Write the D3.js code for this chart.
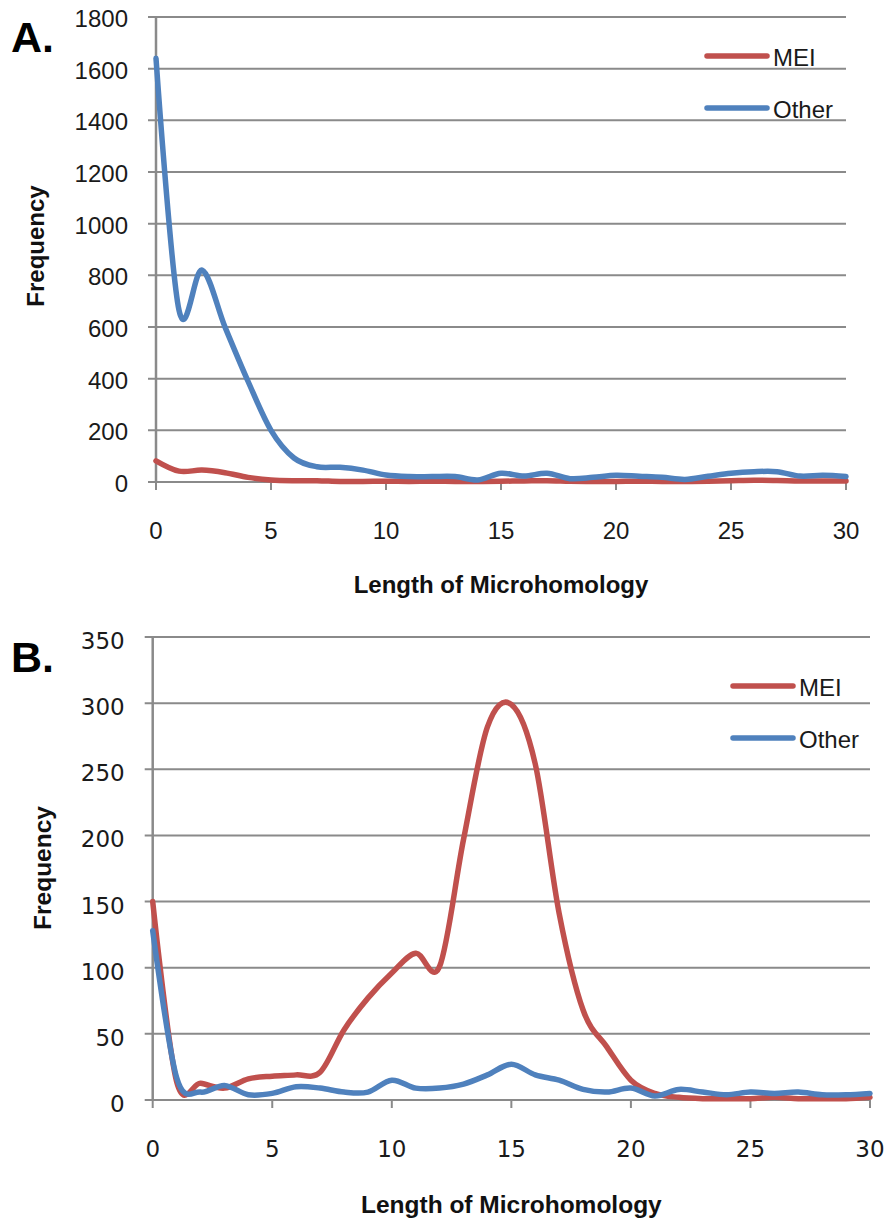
<!DOCTYPE html>
<html>
<head>
<meta charset="utf-8">
<script src="https://cdn.jsdelivr.net/npm/d3@7"></script>
<style>
  html, body { margin: 0; padding: 0; background: #ffffff; }
  svg { display: block; }
</style>
</head>
<body>
<svg id="chart" width="890" height="1222"></svg>
<script>
// ---- Data ----
const lengths = [0,1,2,3,4,5,6,7,8,9,10,11,12,13,14,15,16,17,18,19,20,21,22,23,24,25,26,27,28,29,30];

// Panel A
const meiA   = [82,42,46,36,18,8,5,5,2,2,3,2,3,2,2,3,4,5,3,2,2,3,2,2,3,5,7,6,4,4,4];
const otherA = [1640,665,820,600,390,200,93,59,57,46,27,21,21,21,8,34,23,34,13,18,26,22,18,10,22,34,40,40,23,26,21];

// Panel B
const meiB   = [150,14,12.6,9,16,18,19,21,53,77,96,111,101,197,282,299,254,141,68,40,15,5,2,1,1,1,2,1,1,1,2];
const otherB = [128,17,6,11,4,5,10,9,6,6,15,9,9,12,19,27,19,15,8,6,9,3,8,6,4,6,5,6,4,4,5];

const seriesNames = ["MEI", "Other"];
const seriesColors = ["#C0504D", "#4F81BD"];

const yTicksA = [0,200,400,600,800,1000,1200,1400,1600,1800];
const yTicksB = [0,50,100,150,200,250,300,350];
const xTicks  = [0,5,10,15,20,25,30];

const panelLabels = ["A.", "B."];
const xTitle = "Length of Microhomology";
const yTitle = "Frequency";

// ---- Drawing ----
const svg = d3.select("#chart");
const gridColor = "#8a8a8a";

function drawPanel(cfg) {
  const g = svg.append("g");
  const x = d3.scaleLinear().domain([0, 30]).range([cfg.left, cfg.right]);
  const y = d3.scaleLinear().domain([0, cfg.yMax]).range([cfg.bottom, cfg.top]);

  // horizontal gridlines (with left tick stubs)
  g.selectAll("line.grid").data(cfg.yTicks).enter().append("line")
    .attr("x1", cfg.left - 8).attr("x2", cfg.right)
    .attr("y1", d => y(d)).attr("y2", d => y(d))
    .attr("stroke", gridColor).attr("stroke-width", 2);

  // vertical axis
  g.append("line")
    .attr("x1", cfg.left).attr("x2", cfg.left)
    .attr("y1", y(cfg.yMax)).attr("y2", cfg.bottom + 1)
    .attr("stroke", gridColor).attr("stroke-width", 2.5);

  // x ticks
  g.selectAll("line.xt").data(xTicks).enter().append("line")
    .attr("x1", d => x(d)).attr("x2", d => x(d))
    .attr("y1", cfg.bottom).attr("y2", cfg.bottom + 8)
    .attr("stroke", gridColor).attr("stroke-width", 2);

  // y tick labels
  g.selectAll("text.yl").data(cfg.yTicks).enter().append("text")
    .attr("x", cfg.left - 28)
    .attr("y", d => y(d) + cfg.yLabelDy)
    .attr("text-anchor", "end")
    .attr("font-family", cfg.tickFont)
    .attr("font-size", cfg.tickSize)
    .attr("fill", "#1a1a1a")
    .text(d => d);

  // x tick labels
  g.selectAll("text.xl").data(xTicks).enter().append("text")
    .attr("x", d => x(d))
    .attr("y", cfg.xLabelY)
    .attr("text-anchor", "middle")
    .attr("font-family", cfg.tickFont)
    .attr("font-size", cfg.tickSize)
    .attr("fill", "#1a1a1a")
    .text(d => d);

  // lines
  const line = d3.line()
    .x((d, i) => x(lengths[i]))
    .y(d => y(d))
    .curve(d3.curveCardinal.tension(0));

  cfg.series.forEach((s, i) => {
    g.append("path")
      .attr("d", line(s))
      .attr("fill", "none")
      .attr("stroke", seriesColors[i])
      .attr("stroke-width", 5.5)
      .attr("stroke-linejoin", "round")
      .attr("stroke-linecap", "round");
  });

  // legend
  seriesNames.forEach((name, i) => {
    const ly = cfg.legendY[i];
    g.append("line")
      .attr("x1", cfg.legendX).attr("x2", cfg.legendX + 60)
      .attr("y1", ly).attr("y2", ly)
      .attr("stroke", seriesColors[i]).attr("stroke-width", 5.5)
      .attr("stroke-linecap", "round");
    g.append("text")
      .attr("x", cfg.legendX + 66)
      .attr("y", ly + 10)
      .attr("font-family", "Liberation Sans, Arial, sans-serif")
      .attr("font-size", 24)
      .attr("fill", "#1a1a1a")
      .text(name);
  });

  // axis titles
  g.append("text")
    .attr("x", (cfg.left + cfg.right) / 2)
    .attr("y", cfg.xTitleY)
    .attr("text-anchor", "middle")
    .attr("font-family", "Liberation Sans, Arial, sans-serif")
    .attr("font-weight", "bold")
    .attr("font-size", cfg.titleSize)
    .attr("fill", "#111")
    .text(xTitle);

  g.append("text")
    .attr("transform", `translate(${cfg.yTitleX},${cfg.yTitleCY}) rotate(-90)`)
    .attr("text-anchor", "middle")
    .attr("dominant-baseline", "central")
    .attr("font-family", "Liberation Sans, Arial, sans-serif")
    .attr("font-weight", "bold")
    .attr("font-size", cfg.titleSize)
    .attr("fill", "#111")
    .text(yTitle);

  // panel label
  g.append("text")
    .attr("x", 11)
    .attr("y", cfg.panelLabelY)
    .attr("font-family", "Liberation Sans, Arial, sans-serif")
    .attr("font-weight", "bold")
    .attr("font-size", 43)
    .attr("fill", "#000")
    .text(cfg.panelLabel);
}

drawPanel({
  left: 156, right: 846, top: 17, bottom: 482,
  yMax: 1800, yTicks: yTicksA,
  series: [meiA, otherA],
  tickFont: "Liberation Sans, Arial, sans-serif", tickSize: 24,
  yLabelDy: 10, xLabelY: 539,
  legendX: 707, legendY: [56, 108],
  xTitleY: 593, titleSize: 24,
  yTitleX: 35, yTitleCY: 246,
  panelLabel: panelLabels[0], panelLabelY: 52
});

drawPanel({
  left: 152.7, right: 870, top: 637, bottom: 1100,
  yMax: 350, yTicks: yTicksB,
  series: [meiB, otherB],
  tickFont: "DejaVu Sans, sans-serif", tickSize: 23,
  yLabelDy: 12, xLabelY: 1157,
  legendX: 733, legendY: [686, 738],
  xTitleY: 1213, titleSize: 24.5,
  yTitleX: 42, yTitleCY: 868,
  panelLabel: panelLabels[1], panelLabelY: 672
});
</script>
</body>
</html>
